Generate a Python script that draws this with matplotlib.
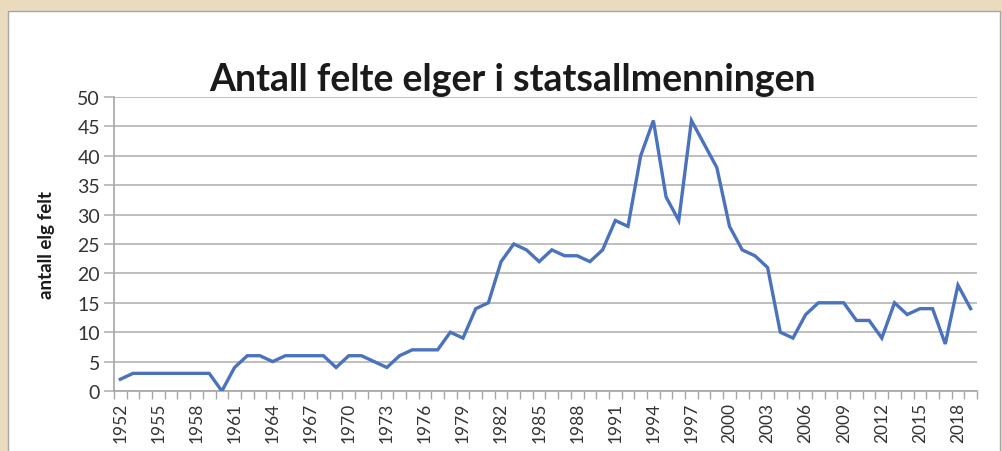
import matplotlib
matplotlib.use("Agg")
import matplotlib.pyplot as plt
import matplotlib.patches as mpatches
import numpy as np

# data
years = list(range(1952, 2020))
felt = [2, 3, 3, 3, 3, 3, 3, 3, 0, 4,
        6, 6, 5, 6, 6, 6, 6, 4, 6, 6,
        5, 4, 6, 7, 7, 7, 10, 9, 14, 15,
        22, 25, 24, 22, 24, 23, 23, 22, 24, 29,
        28, 40, 46, 33, 29, 46, 42, 38, 28, 24,
        23, 21, 10, 9, 13, 15, 15, 15, 12, 12,
        9, 15, 13, 14, 14, 8, 18, 14]
yticks = [0, 5, 10, 15, 20, 25, 30, 35, 40, 45, 50]
title = "Antall felte elger i statsallmenningen"
ylabel = "antall elg felt"

plt.rcParams['font.family'] = ['Lato', 'DejaVu Sans']

W, H = 1003, 452
fig = plt.figure(figsize=(W / 100, H / 100), dpi=100)
fig.patch.set_facecolor("#EADBBF")

# white chart box with grey border
box = mpatches.Rectangle((8 / W, -0.05), (1000 - 8) / W, 1.05 - 12 / H,
                         transform=fig.transFigure, facecolor="white",
                         edgecolor="#A6A6A6", linewidth=1.0, zorder=-5)
fig.patches.append(box)

ax = fig.add_axes([114 / W, 1 - 392 / H, (977 - 114) / W, (392 - 98) / H])
ax.set_zorder(3)
ax.set_facecolor("white")

x = np.arange(len(years))
ax.plot(x, felt, color="#4A72BD", linewidth=2.4, solid_joinstyle="miter", zorder=3)

ax.set_xlim(-0.5, len(years) - 0.5)
ax.set_ylim(0, 50)

ax.set_yticks(yticks)
ax.set_yticklabels([str(v) for v in yticks], fontsize=14, color="#333333")
ax.yaxis.grid(True, color="#B4B4B4", linewidth=1.2)
ax.set_axisbelow(True)
ax.tick_params(axis="y", length=7, color="#B4B4B4", width=1.2, pad=3)

lab_idx = list(range(0, len(years), 3))
ax.set_xticks(lab_idx)
ax.set_xticklabels([str(years[i]) for i in lab_idx], rotation=90,
                   fontsize=12.5, color="#333333")
ax.tick_params(axis="x", which="major", length=0, pad=8)
ax.set_xticks(np.arange(-0.5, len(years), 1.0), minor=True)
ax.tick_params(axis="x", which="minor", length=6, color="#A6A6A6", width=1.0)

for s in ["top", "right"]:
    ax.spines[s].set_visible(False)
ax.spines["left"].set_color("#A6A6A6")
ax.spines["bottom"].set_color("#A6A6A6")
ax.spines["left"].set_linewidth(1.2)
ax.spines["bottom"].set_linewidth(1.2)

fig.text(513 / W, 1 - 80 / H, title, ha="center", va="center",
         fontsize=27, fontweight="bold", color="#1A1A1A")
fig.text(47 / W, 1 - 245 / H, ylabel, ha="center", va="center",
         rotation=90, fontsize=13.5, fontweight="bold", color="#1A1A1A")

fig.savefig("out.png", dpi=100, facecolor=fig.get_facecolor())
